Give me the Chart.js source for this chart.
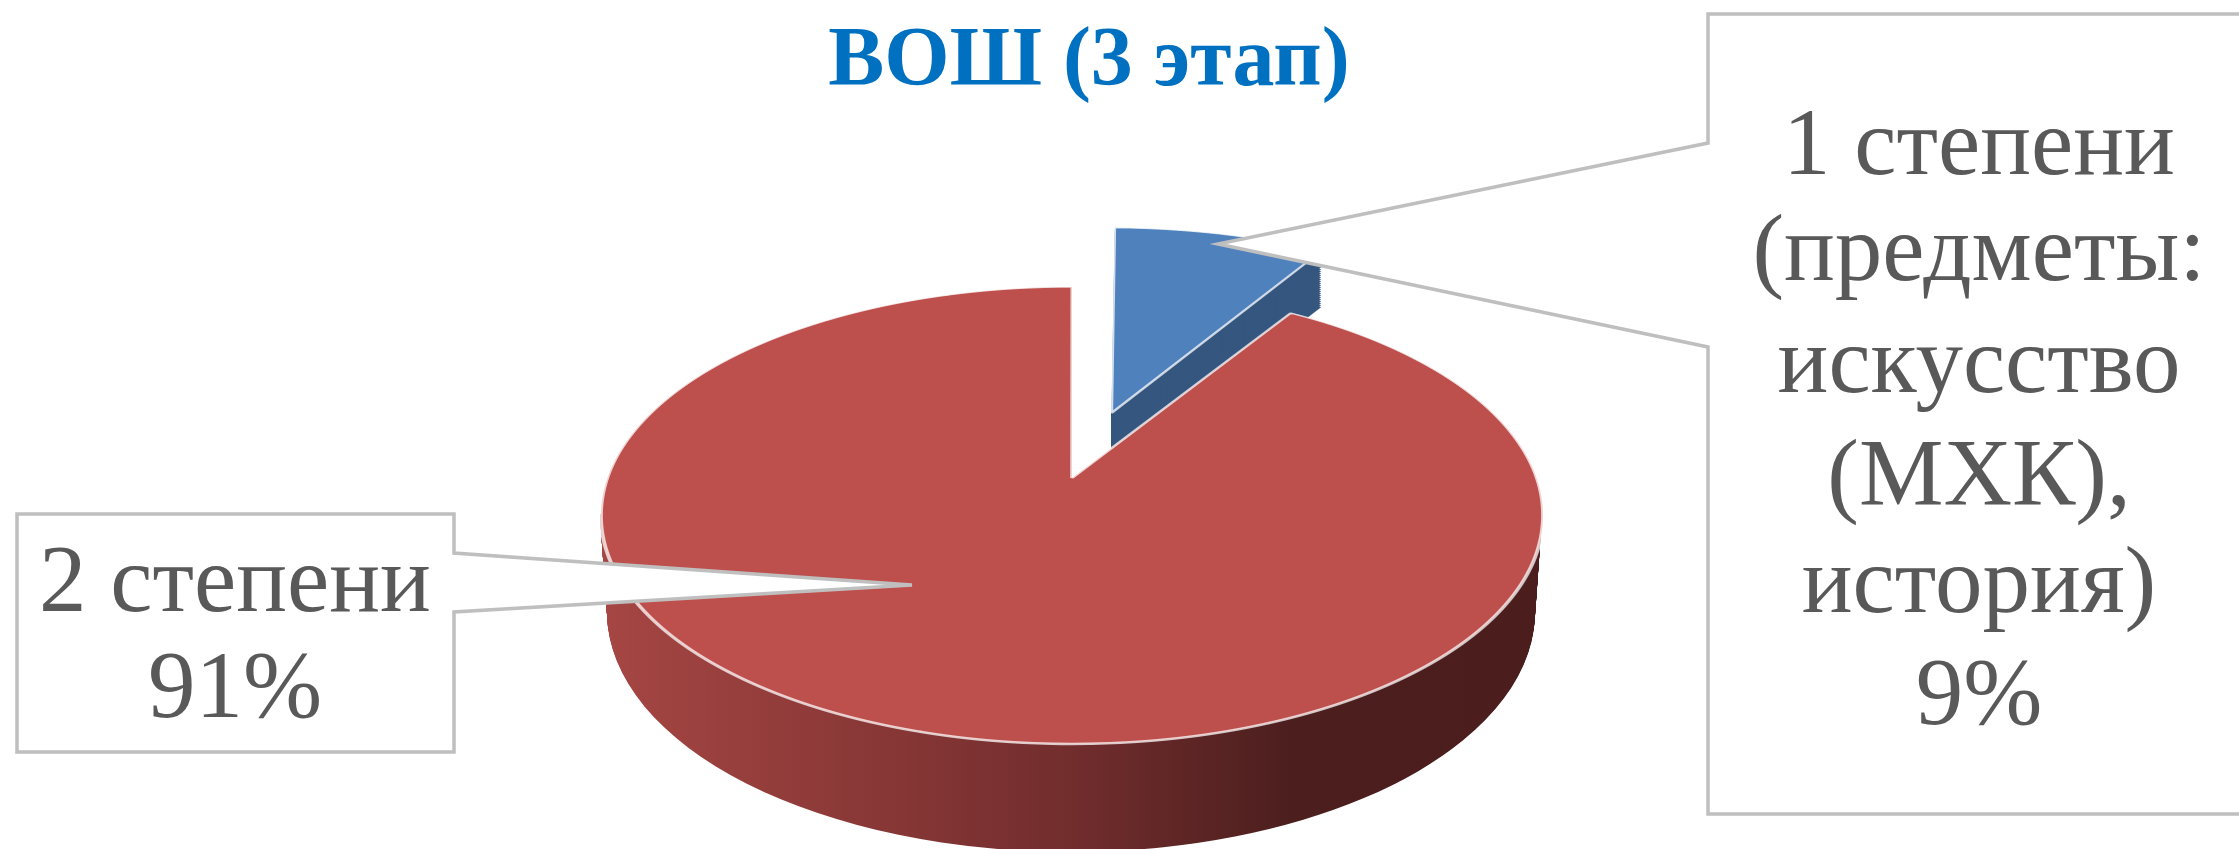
<!DOCTYPE html>
<html lang="ru">
<head>
<meta charset="utf-8">
<title>ВОШ (3 этап)</title>
<script src="https://cdn.jsdelivr.net/npm/chart.js@4"></script>
<style>
    html, body { margin: 0; padding: 0; background: #fff; overflow: hidden; }
    canvas { display: block; }
</style>
</head>
<body>
<canvas id="pieChart" width="2239" height="849"></canvas>
<script>
// ----------- data -----------
const chartTitle = 'ВОШ (3 этап)';
const categories = ['1 степени (предметы: искусство (МХК), история)', '2 степени'];
const percents = [9, 91];
const labelLines = [
    ['1 степени', '(предметы:', 'искусство', '(МХК),', 'история)'],
    ['2 степени']
];
const faceColors = ['#4f81bd', '#bd4f4c'];

// ----------- 3D look: perspective of the pie top (px) -----------
const apexX = 1072, apexY = 478;
const topRadius = 464.6;
const tiltA = 0.4786, tiltK = 0.164;

// draw one arc with perspective, row by row
function drawTop(ctx, arc, dy, r) {
    for (let row = 225; row < 770; row++) {
        const yn = (row + 0.5 - apexY) / topRadius;
        const z = yn / (tiltA + tiltK * yn);
        const w = 1 - tiltK * z;
        const sx = topRadius / (r * w);
        const sy = topRadius / r * tiltA / (w * w);
        ctx.save();
        ctx.beginPath();
        ctx.rect(0, row + dy, 2239, 1);
        ctx.clip();
        ctx.setTransform(sx, 0, 0, sy, apexX - sx * arc.x, row + dy + 0.5 - sy * (arc.y + z * r));
        arc.draw(ctx);
        ctx.restore();
    }
}

// copy of an arc with another fill, the real one stays as it is
function withFill(arc, fill) {
    const copy = Object.create(arc);
    copy.options = Object.assign({}, arc.options, { backgroundColor: fill, borderWidth: 0 });
    return copy;
}

// an offset arc also grows by offset / 4 * fix, take half of that back (the rest fits the picture)
function trimRadius(arc) {
    const copy = Object.create(arc);
    const fix = 1 - Math.sin(Math.min(Math.PI, arc.circumference));
    copy.outerRadius = arc.outerRadius - arc.options.offset / 8 * fix;
    return copy;
}

function drawRedWall(ctx, arc) {
    const r = arc.outerRadius;
    const grad = ctx.createLinearGradient(arc.x - r, 0, arc.x + r, 0);
    grad.addColorStop(0, '#a54643');
    grad.addColorStop(0.32, '#853635');
    grad.addColorStop(0.5, '#722d2d');
    grad.addColorStop(0.74, '#4c1e1e');
    grad.addColorStop(1, '#4b1d1d');
    const wall = withFill(arc, grad);

    ctx.save();
    ctx.beginPath();
    ctx.rect(0, 514, 2239, 335);
    ctx.clip();
    for (let t = 0; t <= 98; t++) {
        const rx = 471 - 7 * t / 98;
        const ry = 228 + 12 * t / 98;
        const sx = rx / r, sy = ry / r;
        ctx.save();
        ctx.setTransform(sx, 0, 0, sy, 1071 - sx * arc.x, 514 + t - sy * arc.y);
        wall.draw(ctx);
        ctx.restore();
    }
    ctx.restore();
}

function drawCallout(ctx, points) {
    ctx.save();
    ctx.beginPath();
    points.forEach((p, i) => {
        if (i === 0) ctx.moveTo(p[0], p[1]);
        else ctx.lineTo(p[0], p[1]);
    });
    ctx.closePath();
    ctx.fillStyle = '#fff';
    ctx.fill();
    ctx.strokeStyle = '#bfbfbf';
    ctx.lineWidth = 3.5;
    ctx.stroke();
    ctx.restore();
}

function drawLines(ctx, lines, cx, baselines) {
    ctx.save();
    ctx.fillStyle = '#595959';
    ctx.font = '95px "Liberation Serif"';
    ctx.textAlign = 'center';
    ctx.textBaseline = 'alphabetic';
    lines.forEach((line, i) => ctx.fillText(line, cx, baselines[i]));
    ctx.restore();
}

const pie3d = {
    id: 'pie3d',
    beforeDatasetsDraw(chart) {
        const ctx = chart.ctx;
        const arcs = chart.getDatasetMeta(0).data;
        const red = arcs[1];
        const blue = trimRadius(arcs[0]);
        const r = red.outerRadius;

        drawRedWall(ctx, red);

        // blue wall: same slice pushed down
        const blueWall = withFill(blue, '#35567f');
        for (let dy = 56; dy > 0; dy -= 2) drawTop(ctx, blueWall, dy, r);

        drawTop(ctx, blue, 0, r);
        drawTop(ctx, red, 0, r);
        return false;
    },
    afterDraw(chart) {
        const ctx = chart.ctx;

        // title
        ctx.save();
        ctx.fillStyle = '#0070c0';
        ctx.font = 'bold 84px "Liberation Serif"';
        ctx.textAlign = 'center';
        ctx.fillText(chartTitle, 1089, 85);
        ctx.restore();

        // callouts
        drawCallout(ctx, [[2250, 14], [1708, 14], [1708, 143], [1218, 244], [1708, 347], [1708, 814], [2250, 814]]);
        drawLines(ctx, labelLines[0].concat(percents[0] + '%'), 1979, [174, 280, 392, 505, 612, 724]);

        drawCallout(ctx, [[17, 514], [454, 514], [454, 553], [912, 585], [454, 612], [454, 752], [17, 752]]);
        drawLines(ctx, labelLines[1].concat(percents[1] + '%'), 235, [611, 717]);
    }
};

new Chart(document.getElementById('pieChart'), {
    type: 'pie',
    data: {
        labels: categories,
        datasets: [{
            data: percents,
            backgroundColor: faceColors,
            borderColor: 'rgba(255,255,255,0.75)',
            borderWidth: 2,
            offset: [330, 0]
        }]
    },
    options: {
        responsive: false,
        animation: false,
        layout: { padding: 0 },
        plugins: {
            legend: { display: false },
            tooltip: { enabled: false }
        }
    },
    plugins: [pie3d]
});
</script>
</body>
</html>
